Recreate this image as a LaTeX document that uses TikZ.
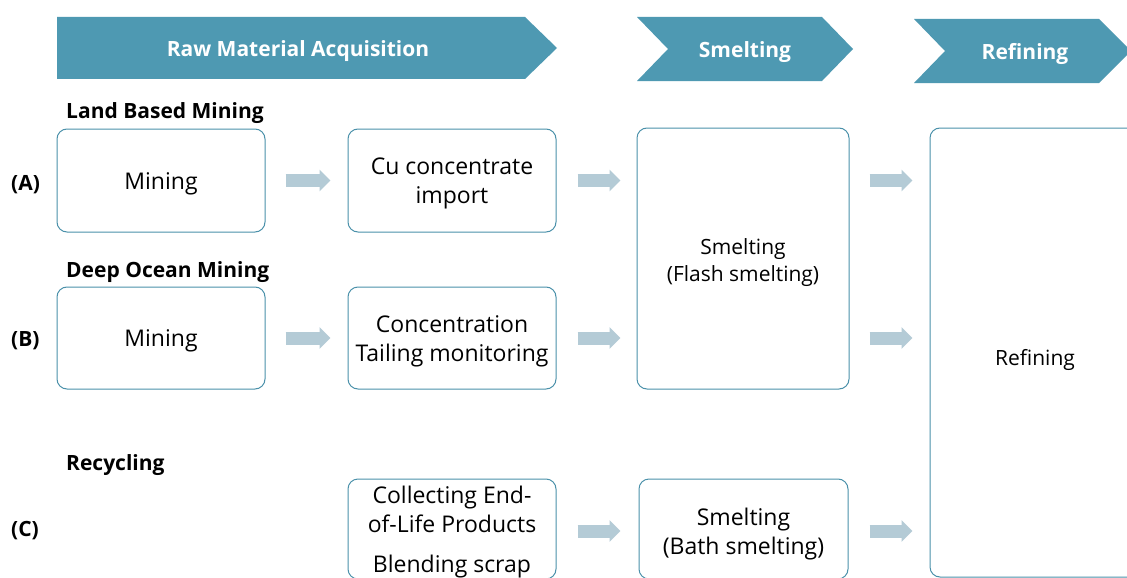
\documentclass[tikz,border=0pt]{standalone}
\usepackage{fontspec}
\setmainfont{Open Sans}
\usetikzlibrary{arrows.meta,calc}
\definecolor{hdr}{RGB}{78,153,178}
\definecolor{bord}{RGB}{75,145,170}
\definecolor{arr}{RGB}{180,203,214}
\begin{document}
\begin{tikzpicture}[x=1pt,y=-1pt,
 box/.style={draw=bord, line width=1pt, rounded corners=10pt, fill=white, inner sep=0pt},
 txt/.style={align=center, inner sep=0pt, font=\fontsize{23}{29}\selectfont},
 smalltxt/.style={align=center, inner sep=0pt, font=\fontsize{21}{27}\selectfont},
 hdrtext/.style={text=white, inner sep=0pt, font=\bfseries\fontsize{21}{25}\selectfont},
 hdrshape/.style={fill=hdr, draw=none},
 lbl/.style={font=\bfseries\fontsize{21}{25}\selectfont, anchor=west, inner sep=0pt},
 flow/.style={draw=arr, line width=13pt, -{Triangle[length=11pt,width=21pt]}}]
\useasboundingbox (0,0) rectangle (1127,578);
\clip (0,0) rectangle (1127,578);
\fill[white] (0,0) rectangle (1127,578);
% headers
\fill[hdrshape] (57,17) -- (525,17) -- (557,48) -- (525,79) -- (57,79) -- cycle;
\node[hdrtext] (h1) at (298,51) {Raw Material Acquisition};
\fill[hdrshape] (637,17) -- (822,17) -- (853,49) -- (822,81) -- (637,81) -- (668,49) -- cycle;
\node[hdrtext] (h2) at (745,52) {Smelting};
\fill[hdrshape] (914,19) -- (1099,19) -- (1131,51) -- (1099,83) -- (914,83) -- (945,51) -- cycle;
\node[hdrtext] (h3) at (1025,54) {Refining};
% labels
\node[lbl] (lA) at (66,113) {Land Based Mining};
\node[lbl] (lB) at (66,272) {Deep Ocean Mining};
\node[lbl] (lC) at (66,465) {Recycling};
\node[lbl] (pA) at (11,185) {(A)};
\node[lbl] (pB) at (11,341) {(B)};
\node[lbl] (pC) at (11,531) {(C)};
% boxes
\node[box, minimum width=208pt, minimum height=103pt] (A1) at (161,180.5) {};
\node[box, minimum width=208pt, minimum height=103pt] (A2) at (452,180.5) {};
\node[box, minimum width=208pt, minimum height=102pt] (B1) at (161,338) {};
\node[box, minimum width=208pt, minimum height=102pt] (B2) at (452,338) {};
\node[box, minimum width=212pt, minimum height=261pt] (S1) at (743,258.5) {};
\node[box, minimum width=210pt, minimum height=449pt] (R) at (1035,352.5) {};
\node[box, minimum width=208pt, minimum height=100pt] (C1) at (452,529) {};
\node[box, minimum width=209pt, minimum height=100pt] (C2) at (743.5,529) {};
% box texts
\node[txt] (A1t) at ($(A1.center)+(0,3)$) {Mining};
\node[txt] (A2t) at ($(A2.center)+(0,3)$) {Cu concentrate\\import};
\node[txt] (B1t) at ($(B1.center)+(0,3)$) {Mining};
\node[txt] (B2t) at ($(B2.center)+(0,3)$) {Concentration\\Tailing monitoring};
\node[smalltxt] (S1t) at ($(S1.center)+(0,4)$) {Smelting\\(Flash smelting)};
\node[smalltxt] (Rt) at (1035,360) {Refining};
\node[txt] (C1t) at (452,532) {Collecting End-\\of-Life Products\\[11pt]Blending scrap};
\node[txt] (C2t) at ($(C2.center)+(0,5)$) {Smelting\\(Bath smelting)};
% flows
\draw[flow] ($(A1.east)+(20,0)$) -- ($(A2.west)+(-17,0)$);
\draw[flow] ($(B1.east)+(20,0)$) -- ($(B2.west)+(-17,0)$);
\draw[flow] ($(A2.east)+(21,0)$) -- ($(A2.east -| S1.west)+(-16,0)$);
\draw[flow] ($(B2.east)+(21,0)$) -- ($(B2.east -| S1.west)+(-16,0)$);
\draw[flow] ($(A2.east -| S1.east)+(20,0)$) -- ($(A2.east -| R.west)+(-17,0)$);
\draw[flow] ($(B2.east -| S1.east)+(20,0)$) -- ($(B2.east -| R.west)+(-17,0)$);
\draw[flow] ($(C1.east)+(21,2)$) -- ($(C2.west)+(-18,2)$);
\draw[flow] ($(C2.east)+(21,2)$) -- ($(C2.east -| R.west)+(-17,2)$);
\end{tikzpicture}
\end{document}
